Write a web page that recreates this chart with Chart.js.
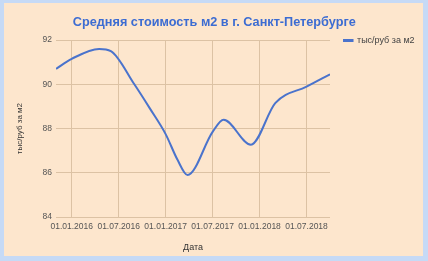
<!DOCTYPE html>
<html>
<head>
<meta charset="utf-8">
<script src="https://cdn.jsdelivr.net/npm/chart.js@4/dist/chart.umd.min.js"></script>
<style>
html,body{margin:0;padding:0;background:#c6daf6;}
#wrap{position:absolute;left:0;top:0;width:428px;height:261px;}
</style>
</head>
<body>
<div id="wrap"><canvas id="c" width="428" height="261"></canvas></div>
<script>
// months since 01.01.2016
const monthIdx = [-2, 0, 3.5, 5, 8, 10, 12, 13.5, 14.8, 18, 19.4, 22.9, 26, 30, 33];
const prices   = [90.7, 91.15, 91.6, 91.5, 90.0, 88.9, 87.75, 86.6, 85.9, 87.85, 88.4, 87.27, 89.15, 89.9, 90.45];
const xTickValues = [0, 6, 12, 18, 24, 30];
const xTickLabels = ['01.01.2016', '01.07.2016', '01.01.2017', '01.07.2017', '01.01.2018', '01.07.2018'];
const yTicks = [84, 86, 88, 90, 92];
const seriesName = 'тыс/руб за м2';
const chartTitle = 'Средняя стоимость м2 в г. Санкт-Петербурге';

const bgPlugin = {
  id: 'bg',
  beforeDraw(chart) {
    const ctx = chart.ctx;
    ctx.save();
    ctx.fillStyle = '#c6daf6';
    ctx.fillRect(0, 0, chart.width, chart.height);
    ctx.fillStyle = '#fde6cd';
    ctx.fillRect(4, 3, chart.width - 9, chart.height - 8);
    ctx.restore();
  }
};

Chart.defaults.font.family = '"Liberation Sans", Arial, sans-serif';

new Chart(document.getElementById('c'), {
  type: 'line',
  data: {
    datasets: [{
      label: seriesName,
      data: monthIdx.map((m, i) => ({x: m, y: prices[i]})),
      borderColor: '#4a73cc',
      backgroundColor: '#4a73cc',
      borderWidth: 2,
      pointRadius: 0,
      cubicInterpolationMode: 'monotone',
      fill: false
    }]
  },
  options: {
    responsive: false,
    animation: false,
    layout: {padding: {left: 4, right: 3.4, top: 8, bottom: 5.5}},
    plugins: {
      title: {
        display: true,
        text: chartTitle,
        color: '#3c6cd2',
        font: {size: 12.7, weight: 'bold'},
        padding: {top: 7, bottom: 9.8}
      },
      legend: {
        position: 'right',
        align: 'start',
        title: {display: true, text: ' ', font: {size: 10}, padding: 1},
        labels: {
          boxWidth: 8.5,
          boxHeight: 1,
          padding: 14,
          color: '#444',
          font: {size: 9}
        }
      },
      tooltip: {enabled: false}
    },
    scales: {
      x: {
        type: 'linear',
        min: -2,
        max: 33,
        afterBuildTicks(axis) { axis.ticks = xTickValues.map(v => ({value: v})); },
        ticks: {
          color: '#555',
          font: {size: 8.5},
          padding: 4,
          maxRotation: 0,
          autoSkip: false,
          callback: (v) => { const i = xTickValues.indexOf(v); return i >= 0 ? xTickLabels[i] : ''; }
        },
        grid: {color: '#dcc2a4', drawTicks: false},
        border: {display: false},
        title: {display: true, text: 'Дата', color: '#333', font: {size: 9}, padding: {top: 6.4, bottom: 3}}
      },
      y: {
        min: 84,
        max: 92,
        afterBuildTicks(axis) { axis.ticks = yTicks.map(v => ({value: v})); },
        ticks: {color: '#555', font: {size: 8.5}, padding: 4},
        grid: {color: '#dcc2a4', drawTicks: false},
        border: {display: false},
        title: {display: true, text: seriesName, color: '#333', font: {size: 8}, padding: {top: 11, bottom: 14}}
      }
    }
  },
  plugins: [bgPlugin]
});
</script>
</body>
</html>
